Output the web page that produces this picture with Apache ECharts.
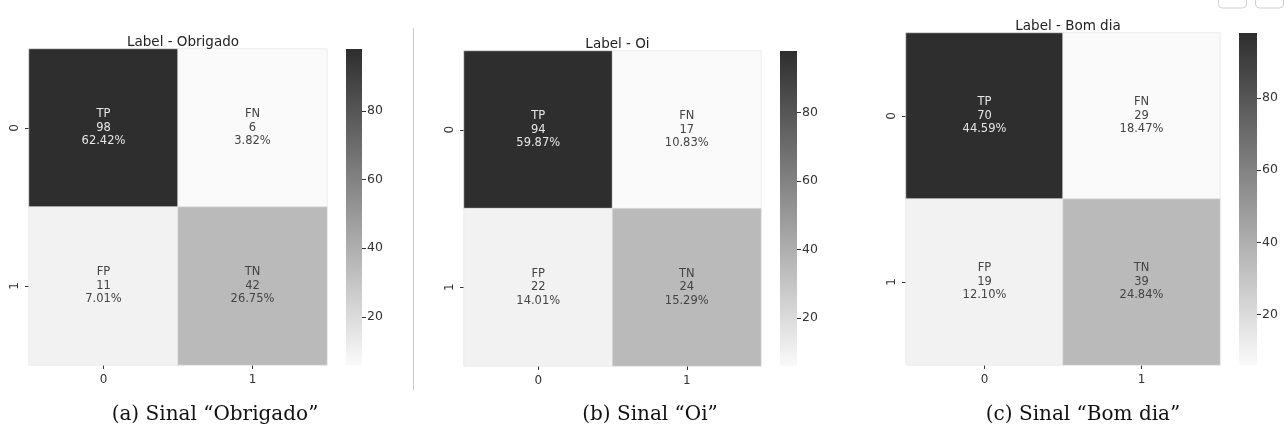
<!DOCTYPE html>
<html>
<head>
<meta charset="utf-8">
<script src="https://cdn.jsdelivr.net/npm/echarts@6/dist/echarts.min.js"></script>
<style>
  html, body { margin: 0; padding: 0; background: #fff; }
  #chart { width: 1286px; height: 430px; }
</style>
</head>
<body>
<div id="chart"></div>
<script>
// confusion matrices, row-major: [TP, FN, FP, TN]
var axisCats = ['0', '1'];
var cellNames = ['TP', 'FN', 'FP', 'TN'];
var titles = ['Label - Obrigado', 'Label - Oi', 'Label - Bom dia'];
var captions = ['(a) Sinal \u201cObrigado\u201d', '(b) Sinal \u201cOi\u201d', '(c) Sinal \u201cBom dia\u201d'];
var countsObrigado = [98, 6, 11, 42];
var countsOi = [94, 17, 22, 24];
var countsBomDia = [70, 29, 19, 39];
var colorbarRange = [6, 98];
var colorbarTicks = [20, 40, 60, 80];

(function() {
  var font = 'DejaVu Sans';
  var ink = '#333';
  var cellShade = ['#2e2e2e', '#fafafa', '#f2f2f2', '#bababa'];
  var cellInk = ['#e6e6e6', '#444', '#444', '#444'];
  var allCounts = [countsObrigado, countsOi, countsBomDia];

  // pixel boxes of each panel: heatmap and colorbar
  var panels = [
    { hm: { left: 29, top: 49, width: 298, height: 316 }, cb: { left: 346, top: 49, width: 16, height: 316 }, cx: 210 },
    { hm: { left: 464, top: 51, width: 297, height: 315 }, cb: { left: 780, top: 51, width: 17, height: 315 }, cx: 645 },
    { hm: { left: 906, top: 33, width: 314, height: 332 }, cb: { left: 1239, top: 33, width: 18, height: 332 }, cx: 1078 }
  ];

  var chart = echarts.init(document.getElementById('chart'), null, { renderer: 'canvas' });

  var grid = [], xAxis = [], yAxis = [], series = [], title = [];

  panels.forEach(function(p, i) {
    var counts = allCounts[i];
    var total = counts.reduce(function(a, b) { return a + b; }, 0);
    var hg = i * 2, cg = i * 2 + 1;

    grid.push(p.hm, p.cb);

    xAxis.push({
      gridIndex: hg, type: 'category', data: axisCats, position: 'bottom',
      axisLine: { show: false },
      axisTick: { show: true, alignWithLabel: true, length: 4, lineStyle: { color: ink } },
      axisLabel: { color: ink, fontFamily: font, fontSize: 12, margin: 9 },
      splitLine: { show: false }
    }, {
      gridIndex: cg, type: 'category', data: ['cb'], show: false
    });

    yAxis.push({
      gridIndex: hg, type: 'category', data: axisCats, inverse: true,
      axisLine: { show: false },
      axisTick: { show: true, alignWithLabel: true, length: 4, lineStyle: { color: ink } },
      axisLabel: { color: ink, fontFamily: font, fontSize: 12, rotate: 90, margin: 8 },
      splitLine: { show: false }
    }, {
      gridIndex: cg, type: 'value', position: 'right',
      min: colorbarRange[0], max: colorbarRange[1],
      axisLine: { show: false },
      splitLine: { show: false },
      axisTick: { show: true, length: 4, customValues: colorbarTicks, lineStyle: { color: ink } },
      axisLabel: { color: ink, fontFamily: font, fontSize: 12.5, margin: 5, customValues: colorbarTicks }
    });

    var data = counts.map(function(v, k) {
      return {
        value: [k % 2, Math.floor(k / 2), v],
        itemStyle: { color: cellShade[k] },
        label: {
          color: cellInk[k],
          formatter: cellNames[k] + '\n' + v + '\n' + (v / total * 100).toFixed(2) + '%'
        }
      };
    });

    series.push({
      type: 'heatmap', xAxisIndex: hg, yAxisIndex: hg, data: data,
      itemStyle: { borderColor: '#e4e4e4', borderWidth: 0.6 },
      label: { show: true, fontFamily: font, fontSize: 11.5, lineHeight: 13.5 },
      emphasis: { disabled: true }
    }, {
      type: 'custom', xAxisIndex: cg, yAxisIndex: cg, silent: true,
      data: [[0, colorbarRange[0], colorbarRange[1]]],
      renderItem: function(params, api) {
        var cs = params.coordSys;
        var yTop = api.coord([0, api.value(2)])[1];
        var yBot = api.coord([0, api.value(1)])[1];
        return {
          type: 'rect',
          shape: { x: cs.x, y: yTop, width: cs.width, height: yBot - yTop },
          style: {
            fill: new echarts.graphic.LinearGradient(0, 0, 0, 1, [
              { offset: 0, color: '#2e2e2e' },
              { offset: 1, color: '#fafafa' }
            ])
          }
        };
      }
    });

    title.push({
      text: titles[i], left: p.hm.left + p.hm.width / 2, top: p.hm.top - 19, textAlign: 'center',
      textStyle: { fontFamily: font, fontSize: 13.5, fontWeight: 'normal', color: '#222' }
    }, {
      text: captions[i], left: p.cx, top: 400, textAlign: 'center',
      textStyle: { fontFamily: 'DejaVu Serif', fontSize: 20, fontWeight: 'normal', color: '#111' }
    });
  });

  chart.setOption({
    animation: false,
    title: title,
    grid: grid,
    xAxis: xAxis,
    yAxis: yAxis,
    series: series,
    graphic: [
      { type: 'line', shape: { x1: 413.5, y1: 28, x2: 413.5, y2: 390 }, style: { stroke: '#c8c8c8', lineWidth: 1 } },
      { type: 'rect', shape: { x: 1218.5, y: -6, width: 28, height: 14, r: 4 }, style: { fill: 'none', stroke: '#d0d0d0', lineWidth: 1 } },
      { type: 'rect', shape: { x: 1255.5, y: -6, width: 28, height: 14, r: 4 }, style: { fill: 'none', stroke: '#d0d0d0', lineWidth: 1 } }
    ]
  });
  window.addEventListener('resize', function() { chart.resize(); });
})();
</script>
</body>
</html>
